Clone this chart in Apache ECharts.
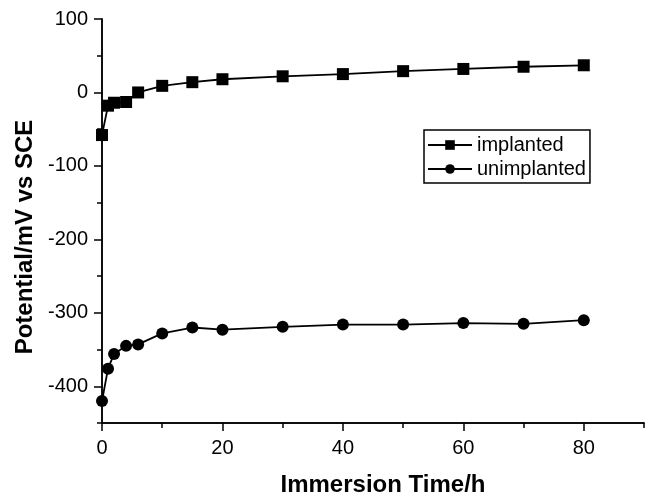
<!DOCTYPE html>
<html>
<head>
<meta charset="utf-8">
<script src="https://cdn.jsdelivr.net/npm/echarts@6/dist/echarts.min.js"></script>
<style>
  html, body { margin: 0; padding: 0; background: #fff; }
  #chart { width: 650px; height: 497px; }
</style>
</head>
<body>
<div id="chart"></div>
<script>
const chart = echarts.init(document.getElementById("chart"));

const hours = [0, 1, 2, 4, 6, 10, 15, 20, 30, 40, 50, 60, 70, 80];
const implanted = [-58, -18, -14, -13, 0, 9, 14, 18, 22, 25, 29, 32, 35, 37];
const unimplanted = [-420, -376, -356, -345, -343, -328, -320, -323, -319, -316, -316, -314, -315, -310];

const xMajorTicks = [0, 20, 40, 60, 80];
const xMinorTicks = [10, 30, 50, 70, 90];
const yMajorTicks = [-400, -300, -200, -100, 0, 100];
const yMinorTicks = [-450, -350, -250, -150, -50, 50];

const FONT = "Liberation Sans, Arial, sans-serif";
const pairs = vals => hours.map((h, i) => [h, vals[i]]);

const baseX = {
  type: "value",
  position: "bottom",
  min: 0,
  max: 90,
  interval: 10,
  splitLine: { show: false },
  axisLine: { onZero: false, lineStyle: { color: "#000", width: 1.5 } }
};
const baseY = {
  type: "value",
  position: "left",
  min: -450,
  max: 100,
  interval: 50,
  splitLine: { show: false },
  axisLine: { onZero: false, lineStyle: { color: "#000", width: 1.5 } }
};

chart.setOption({
  animation: false,
  grid: { left: 102, right: 6, top: 19, bottom: 74, containLabel: false, outerBoundsMode: "none" },
  xAxis: [
    Object.assign({}, baseX, {
      name: "Immersion Time/h",
      nameLocation: "middle",
      nameGap: 50,
      nameTextStyle: { fontFamily: FONT, fontWeight: "bold", fontSize: 24, color: "#000", padding: [0, 0, 0, 20] },
      axisTick: { customValues: xMajorTicks, length: 8, lineStyle: { color: "#000", width: 1.5 } },
      axisLabel: { customValues: xMajorTicks, margin: 15, fontFamily: FONT, fontSize: 20, color: "#000" }
    }),
    Object.assign({}, baseX, {
      axisTick: { customValues: xMinorTicks, length: 5, lineStyle: { color: "#000", width: 1.5 } },
      axisLabel: { show: false }
    })
  ],
  yAxis: [
    Object.assign({}, baseY, {
      name: "Potential/mV vs SCE",
      nameLocation: "middle",
      nameGap: 65,
      nameTextStyle: { fontFamily: FONT, fontWeight: "bold", fontSize: 24, color: "#000", padding: [0, 32, 0, 0] },
      axisTick: { customValues: yMajorTicks, length: 8, lineStyle: { color: "#000", width: 1.5 } },
      axisLabel: { customValues: yMajorTicks, margin: 14, fontFamily: FONT, fontSize: 20, color: "#000" }
    }),
    Object.assign({}, baseY, {
      axisTick: { customValues: yMinorTicks, length: 5, lineStyle: { color: "#000", width: 1.5 } },
      axisLabel: { show: false }
    })
  ],
  legend: {
    orient: "vertical",
    left: 424,
    top: 130,
    padding: [5, 4, 4, 3],
    itemGap: 4,
    itemWidth: 44,
    itemHeight: 12,
    borderColor: "#000",
    borderWidth: 1.5,
    borderRadius: 0,
    textStyle: { fontFamily: FONT, fontSize: 20, color: "#000", padding: [0, 0, 0, 0] },
    data: ["implanted", "unimplanted"]
  },
  series: [
    {
      name: "implanted",
      type: "line",
      data: pairs(implanted),
      symbol: "rect",
      symbolSize: 12,
      lineStyle: { color: "#000", width: 1.8 },
      itemStyle: { color: "#000" }
    },
    {
      name: "unimplanted",
      type: "line",
      data: pairs(unimplanted),
      symbol: "circle",
      symbolSize: 12,
      lineStyle: { color: "#000", width: 1.8 },
      itemStyle: { color: "#000" }
    }
  ]
});
</script>
</body>
</html>
